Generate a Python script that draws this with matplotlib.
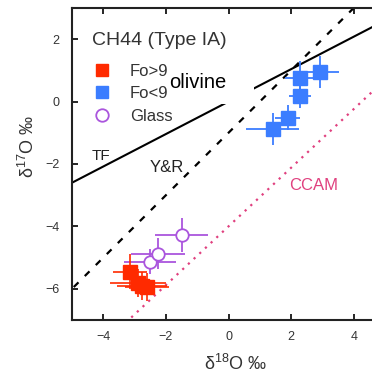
import numpy as np
import matplotlib
matplotlib.use("Agg")
import matplotlib.pyplot as plt
from matplotlib.patches import Rectangle

plt.rcParams['font.family'] = ['Liberation Sans', 'DejaVu Sans']
plt.rcParams['mathtext.fontset'] = 'custom'
plt.rcParams['mathtext.rm'] = 'Liberation Sans'

# Data (delta18O, delta17O in permil)
fo_hi_x = [-3.15, -2.90, -2.75, -2.60]
fo_hi_y = [-5.45, -5.80, -5.90, -5.95]
fo_hi_xerr = [0.55, 0.90, 0.80, 0.70]
fo_hi_yerr = [0.55, 0.45, 0.45, 0.45]

fo_lo_x = [1.41, 1.90, 2.27, 2.30, 2.92]
fo_lo_y = [-0.88, -0.52, 0.18, 0.75, 0.95]
fo_lo_xerr = [0.85, 0.40, 0.35, 0.50, 0.60]
fo_lo_yerr = [0.50, 0.40, 0.40, 0.55, 0.50]

glass_x = [-2.50, -2.25, -1.50]
glass_y = [-5.13, -4.87, -4.28]
glass_xerr = [0.83, 0.85, 0.85]
glass_yerr = [0.40, 0.50, 0.55]

# Reference lines: slope, intercept
tf_line = (0.52, 0.0)
yr_line = (1.00, -1.00)
ccam_line = (0.94, -4.00)

legend_labels = ['Fo>90', 'Fo<90', 'Glass']
legend_title = 'CH44 (Type IA)'

xticks = [-4, -2, 0, 2, 4]
yticks = [-6, -4, -2, 0, 2]

RED = '#FF2A00'
BLUE = '#3B7DFF'
PURPLE = '#AA55DD'
PINK = '#E0407F'
TXT = '#333333'

fig = plt.figure(figsize=(3.72, 3.75), dpi=100)
ax = fig.add_axes([72/372, 55/375, 313/372, 312/375])
ax.set_xlim(-5, 5)
ax.set_ylim(-7, 3)

xx = np.array([-6.0, 6.0])
ax.plot(xx, tf_line[0]*xx + tf_line[1], color='black', lw=1.5, zorder=2)
ax.plot(xx, yr_line[0]*xx + yr_line[1], color='black', lw=1.6,
        linestyle=(0, (3, 4)), zorder=2)
ax.plot(xx, ccam_line[0]*xx + ccam_line[1], color=PINK, lw=1.6,
        linestyle=(0, (1, 2.5)), zorder=2)

ax.errorbar(glass_x, glass_y, xerr=glass_xerr, yerr=glass_yerr, fmt='o',
            ms=9, mfc='white', mec=PURPLE, mew=1.3, ecolor=PURPLE,
            elinewidth=1.3, capsize=0, zorder=3)
ax.errorbar(fo_hi_x, fo_hi_y, xerr=fo_hi_xerr, yerr=fo_hi_yerr, fmt='s',
            ms=9.5, mfc=RED, mec=RED, ecolor=RED, elinewidth=1.2,
            capsize=0, zorder=4)
ax.errorbar(fo_lo_x, fo_lo_y, xerr=fo_lo_xerr, yerr=fo_lo_yerr, fmt='s',
            ms=9.5, mfc=BLUE, mec=BLUE, ecolor=BLUE, elinewidth=1.3,
            capsize=0, zorder=4)

ax.text(-4.09, -1.75, 'TF', fontsize=11, color='#222222', ha='center', va='center')
ax.text(-1.98, -2.10, 'Y&R', fontsize=12, color='#222222', ha='center', va='center')
ax.text(2.72, -2.68, 'CCAM', fontsize=12, color=PINK, ha='center', va='center')

# Legend drawn by hand (axes-fraction coordinates)
ax.text(0.064, 0.881, legend_title, transform=ax.transAxes, fontsize=14,
        color=TXT, ha='left', va='baseline', zorder=5)
leg_rows = [0.801, 0.731, 0.657]
leg_styles = [dict(marker='s', ms=8.5, mfc=RED, mec=RED),
              dict(marker='s', ms=8.5, mfc=BLUE, mec=BLUE),
              dict(marker='o', ms=9, mfc='white', mec=PURPLE, mew=1.3)]
for yy, lab, st in zip(leg_rows, legend_labels, leg_styles):
    ax.plot([0.096], [yy], transform=ax.transAxes, linestyle='none',
            clip_on=False, zorder=5, **st)
    ax.text(0.185, yy, lab, transform=ax.transAxes, fontsize=12, color=TXT,
            ha='left', va='center_baseline', zorder=5)

ax.add_patch(Rectangle((-1.98, -0.08), 2.81, 1.47, facecolor='white',
                       edgecolor='none', zorder=6))
ax.text(-1.885, 0.43, 'olivine', fontsize=14.5, color='black', ha='left',
        va='baseline', zorder=7)

ax.set_xticks(xticks)
ax.set_yticks(yticks)
ax.tick_params(direction='in', length=4, width=1.2, labelsize=9,
               labelcolor=TXT, top=True, right=True)
ax.tick_params(axis='x', pad=8)
ax.tick_params(axis='y', pad=9)
for s in ax.spines.values():
    s.set_linewidth(1.5)
    s.set_color('#222222')

ax.set_xlabel('δ$^{18}$O ‰', fontsize=13, color=TXT)
ax.set_ylabel('δ$^{17}$O ‰', fontsize=13, color=TXT)
ax.xaxis.set_label_coords(0.524, -0.11)
ax.yaxis.set_label_coords(-0.11, 0.558)

fig.savefig('out.png', dpi=100)
